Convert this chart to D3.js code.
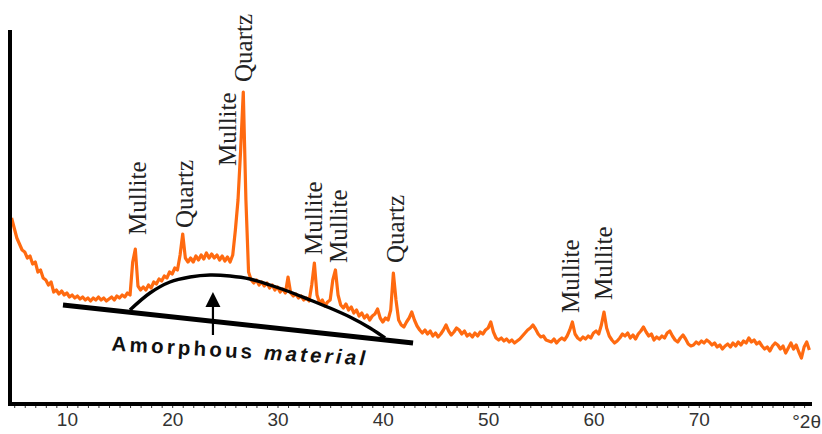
<!DOCTYPE html>
<html><head><meta charset="utf-8">
<script src="https://cdn.jsdelivr.net/npm/d3@7"></script>
<style>body{margin:0;background:#fff}svg{display:block}</style>
</head><body><svg id="c" width="822" height="434"></svg>
<script>
// ---- data ----
const twoThetaStart = 4.75;   // first sample, degrees 2θ
const twoThetaStep = 0.25;    // sampling step
const intensity = [
  186,
  176,166,160,154,   // 5
  152,146,148,140,   // 6
  142,132,134,126,   // 7
  124,119,122,112,   // 8
  114,110,113,109,   // 9
  111,107,109,106,   // 10
  108,105,107,104,   // 11
  106,103,106,104,   // 12
  107,104,106,103,   // 13
  105,107,104,108,   // 14
  106,109,107,111,   // 15
  109,142,155,118,   // 16
  114,117,114,119,   // 17
  116,122,120,125,   // 18
  123,128,126,132,   // 19
  130,136,134,149,   // 20
  170,146,142,146,   // 21
  142,148,144,149,   // 22
  145,151,146,150,   // 23
  146,149,144,148,   // 24
  143,147,142,149,   // 25
  174,204,254,312,   // 26
  204,132,124,121,   // 27
  124,119,122,118,   // 28
  121,116,119,114,   // 29
  117,112,115,111,   // 30
  127,111,108,110,   // 31
  106,108,104,106,   // 32
  103,119,141,109,   // 33
  101,104,98,102,    // 34
  104,124,134,109,   // 35
  99,96,100,94,      // 36
  97,91,94,88,       // 37
  91,86,89,84,       // 38
  88,90,95,86,       // 39
  82,86,84,94,       // 40
  131,104,84,79,     // 41
  77,82,86,92,       // 42
  84,78,74,71,       // 43
  74,70,73,68,       // 44
  71,67,70,74,       // 45
  79,73,69,72,       // 46
  76,74,70,73,       // 47
  68,70,67,71,       // 48
  68,72,70,74,       // 49
  76,82,72,66,       // 50
  64,66,63,65,       // 51
  62,64,61,63,       // 52
  65,68,71,74,       // 53
  76,79,75,70,       // 54
  67,68,64,63,       // 55
  62,65,61,64,       // 56
  66,64,68,74,       // 57
  82,70,66,64,       // 58
  67,65,68,66,       // 59
  71,73,70,79,       // 60
  92,76,68,64,       // 61
  61,63,66,70,       // 62
  68,71,66,69,       // 63
  65,70,73,77,       // 64
  72,68,70,64,       // 65
  67,65,68,66,       // 66
  71,73,68,64,       // 67
  62,66,69,65,       // 68
  60,58,59,62,       // 69
  60,63,61,64,       // 70
  62,59,61,57,       // 71
  59,55,58,60,       // 72
  57,61,58,62,       // 73
  59,63,61,66,       // 74
  62,64,60,62,       // 75
  58,55,57,53,       // 76
  58,61,59,55,       // 77
  58,51,56,61,       // 78
  55,59,52,46,       // 79
  57,62,54           // 80
];
const xTickValues = [10, 20, 30, 40, 50, 60, 70];
const xUnit = "°2θ";

const peakNames = ["Mullite","Quartz","Mullite","Quartz","Mullite","Mullite","Quartz","Mullite","Mullite"];
const peakLabelTheta = [17.49, 21.94, 26.02, 27.54, 34.27, 36.64, 42.04, 58.63, 61.75];
const peakLabelBase  = [169, 176, 238, 322, 149, 141, 141, 91, 104];

const baselineTheta = [9.63, 42.87];
const baselineI = [99, 61];
const humpTheta = [15.99, 17.89, 19.79, 21.69, 23.59, 25.49, 27.39, 29.29, 31.19, 33.09, 34.98, 36.88, 38.78, 40.21];
const humpI     = [94, 111, 122, 127, 129, 128, 125, 119, 112, 104, 96, 87, 76, 66];
const arrowTheta = 23.87, arrowFromI = 69, arrowToI = 112;
const noteParts = ["Amorphous ", "material"];
const noteTheta = 26.4, noteI = 46;

// ---- drawing ----
const svg = d3.select("#c");
const x = d3.scaleLinear().domain([4.6, 80.75]).range([10, 812]);
const y = d3.scaleLinear().domain([0, 374]).range([404, 30]);

const series = intensity.map((v, i) => ({t: twoThetaStart + i * twoThetaStep, v}));

// spectrum
svg.append("path")
  .datum(series)
  .attr("fill", "none")
  .attr("stroke", "#ff6a10")
  .attr("stroke-width", 3.2)
  .attr("stroke-linejoin", "round")
  .attr("d", d3.line().x(d => x(d.t)).y(d => y(d.v)));

// amorphous baseline
svg.append("path")
  .datum(baselineTheta.map((t, i) => [t, baselineI[i]]))
  .attr("fill", "none").attr("stroke", "#000").attr("stroke-width", 5)
  .attr("d", d3.line().x(d => x(d[0])).y(d => y(d[1])));

// amorphous hump
svg.append("path")
  .datum(humpTheta.map((t, i) => [t, humpI[i]]))
  .attr("fill", "none").attr("stroke", "#000").attr("stroke-width", 3.4)
  .attr("d", d3.line().curve(d3.curveCatmullRom).x(d => x(d[0])).y(d => y(d[1])));

// arrow
const ax = x(arrowTheta);
svg.append("line")
  .attr("x1", ax).attr("x2", ax)
  .attr("y1", y(arrowFromI)).attr("y2", y(arrowToI) + 10)
  .attr("stroke", "#000").attr("stroke-width", 2.2);
svg.append("path")
  .attr("d", `M${ax},${y(arrowToI)} L${ax - 7.5},${y(arrowToI) + 15} L${ax + 7.5},${y(arrowToI) + 15} Z`)
  .attr("fill", "#000");

// note text
const note = svg.append("text")
  .attr("transform", `translate(${x(noteTheta)},${y(noteI)}) rotate(3.3)`)
  .attr("text-anchor", "middle")
  .attr("font-family", "Liberation Sans, Arial, sans-serif")
  .attr("font-weight", "bold")
  .attr("font-size", 20.5)
  .attr("letter-spacing", 3.2)
  .attr("fill", "#111");
note.append("tspan").text(noteParts[0]);
note.append("tspan").attr("font-style", "italic").text(noteParts[1]);

// peak labels
svg.append("g").selectAll("text")
  .data(peakNames)
  .join("text")
  .attr("transform", (d, i) => `translate(${x(peakLabelTheta[i])},${y(peakLabelBase[i])}) rotate(-90)`)
  .attr("font-family", "Liberation Serif, Times New Roman, serif")
  .attr("font-size", 25)
  .attr("fill", "#222")
  .text(d => d);

// axes
const axisG = svg.append("g").attr("transform", "translate(0,404)");
axisG.call(d3.axisBottom(x).tickValues(d3.range(5, 81)).tickSize(4).tickFormat(""))
  .call(g => g.select(".domain").remove())
  .call(g => g.selectAll("line").attr("stroke", "#333").attr("stroke-width", 1));
const labG = svg.append("g").attr("transform", "translate(0,404)");
labG.call(d3.axisBottom(x).tickValues(xTickValues).tickSize(0).tickPadding(9).tickFormat(d3.format("d")))
  .call(g => g.select(".domain").remove())
  .call(g => g.selectAll("text")
     .attr("font-family", "Liberation Sans Narrow, Arial Narrow, Liberation Sans, sans-serif")
     .attr("font-size", 19).attr("fill", "#333"));
svg.append("text")
  .attr("x", 821).attr("y", 428).attr("text-anchor", "end")
  .attr("font-family", "Liberation Sans Narrow, Arial Narrow, Liberation Sans, sans-serif")
  .attr("font-size", 19).attr("fill", "#333")
  .text(xUnit);

// axis lines
svg.append("line").attr("x1", 8).attr("x2", 812).attr("y1", 404).attr("y2", 404)
  .attr("stroke", "#000").attr("stroke-width", 4);
svg.append("line").attr("x1", 10).attr("x2", 10).attr("y1", 30).attr("y2", 406)
  .attr("stroke", "#000").attr("stroke-width", 4);
</script></body></html>
